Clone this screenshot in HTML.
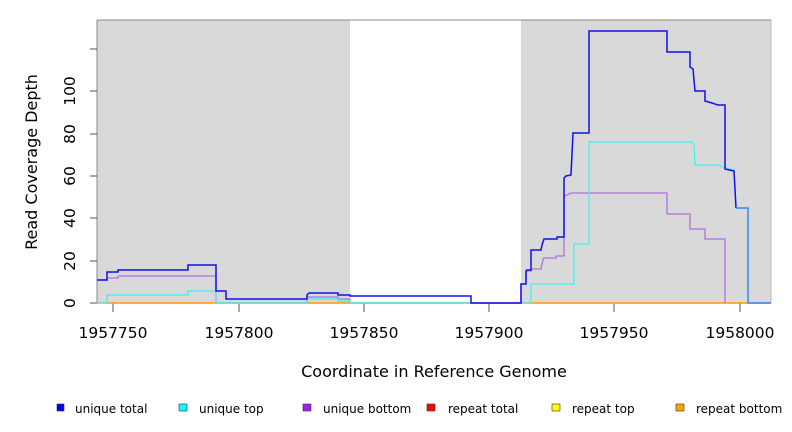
<!DOCTYPE html>
<html><head><meta charset="utf-8"><style>body{margin:0;background:#fff}svg{display:block}text{font-family:"DejaVu Sans","Liberation Sans",sans-serif}</style></head><body>
<svg width="792" height="432" viewBox="0 0 792 432" xmlns="http://www.w3.org/2000/svg">
<rect x="97" y="20" width="253" height="283" fill="#d9d9d9"/>
<rect x="521" y="20" width="250" height="283" fill="#d9d9d9"/>
<line x1="97" y1="20" x2="771" y2="20" stroke="#888" stroke-width="1"/>
<line x1="771" y1="20" x2="771" y2="303" stroke="#bbb" stroke-width="1"/>
<line x1="97" y1="20" x2="97" y2="303" stroke="#888" stroke-width="1"/>
<g stroke="#555" stroke-width="1">
<line x1="90" y1="303" x2="97" y2="303"/><line x1="90" y1="261" x2="97" y2="261"/><line x1="90" y1="218" x2="97" y2="218"/><line x1="90" y1="176" x2="97" y2="176"/><line x1="90" y1="134" x2="97" y2="134"/><line x1="90" y1="91" x2="97" y2="91"/><line x1="90" y1="49" x2="97" y2="49"/>
<line x1="113" y1="303" x2="113" y2="312"/><line x1="239" y1="303" x2="239" y2="312"/><line x1="364" y1="303" x2="364" y2="312"/><line x1="489" y1="303" x2="489" y2="312"/><line x1="614" y1="303" x2="614" y2="312"/><line x1="740" y1="303" x2="740" y2="312"/>
</g>
<g font-size="15.5" text-anchor="middle" fill="#000">
<text transform="translate(75,303) rotate(-90)">0</text>
<text transform="translate(75,261) rotate(-90)">20</text>
<text transform="translate(75,218) rotate(-90)">40</text>
<text transform="translate(75,176) rotate(-90)">60</text>
<text transform="translate(75,134) rotate(-90)">80</text>
<text transform="translate(75,91) rotate(-90)">100</text>
<text x="113" y="338">1957750</text><text x="239" y="338">1957800</text><text x="364" y="338">1957850</text><text x="489" y="338">1957900</text><text x="614" y="338">1957950</text><text x="740" y="338">1958000</text>
</g>
<g font-size="16" text-anchor="middle" fill="#000">
<text x="434" y="377">Coordinate in Reference Genome</text>
<text transform="translate(37,162) rotate(-90)">Read Coverage Depth</text>
</g>
<line x1="97" y1="303" x2="771" y2="303" stroke="#f90" stroke-width="1.5"/>
<polyline fill="none" stroke="#b070e0" stroke-width="1.3" points="97,280 107,280 107,278 118,278 118,276 216,276 216,303 307,303 307,297 338,297 338,299 350,299 350,303 521,303 521,284 526,284 526,271 531,271 531,269 541,269 543,260 544,258 556,258 556,256 564,256 564,196 567,195 571,193 667,193 667,214 690,214 690,229 705,229 705,239 725,239 725,303"/>
<polyline fill="none" stroke="#40f0f0" stroke-width="1.2" points="97,303 107,303 107,295 188,295 188,291 216,291 216,303 307,303 307,299 338,299 338,301 350,301 350,303 531,303 531,284 574,284 574,244 589,244 589,142 692,142 694,145 695,165 718,165 725,168 734,170 736,208 748,208"/>
<polyline fill="none" stroke="#1010ee" stroke-width="1.5" points="97,280 107,280 107,272 118,272 118,270 188,270 188,265 216,265 216,291 226,291 226,299 307,299 307,295 309,293 338,293 338,295 350,295 350,296 471,296 471,303 521,303 521,284 526,284 526,271 527,270 531,270 531,250 541,250 542,245 544,239 557,239 557,237 564,237 564,178 566,176 571,175 573,133 589,133 589,31 667,31 667,52 690,52 690,67 693,69 695,91 705,91 705,101 712,103 718,105 725,105 725,169 734,171 736,208"/>
<polyline fill="none" stroke="#3388ff" stroke-width="1.5" points="736,208 748,208 748,303 771,303"/>
<g stroke="#333" stroke-width="0.6">
<rect x="57" y="404" width="7" height="7" fill="#0000ff"/>
<rect x="179" y="404" width="8" height="7" fill="#00ffff"/>
<rect x="303" y="404" width="8" height="7" fill="#a020f0"/>
<rect x="427" y="404" width="8" height="7" fill="#ff0000"/>
<rect x="552" y="404" width="8" height="7" fill="#ffff00"/>
<rect x="676" y="404" width="8" height="7" fill="#ffa500"/>
</g>
<g font-size="12" fill="#000">
<text x="75" y="413">unique total</text><text x="199" y="413">unique top</text><text x="323" y="413">unique bottom</text><text x="448" y="413">repeat total</text><text x="572" y="413">repeat top</text><text x="696" y="413">repeat bottom</text>
</g>
</svg>
</body></html>
